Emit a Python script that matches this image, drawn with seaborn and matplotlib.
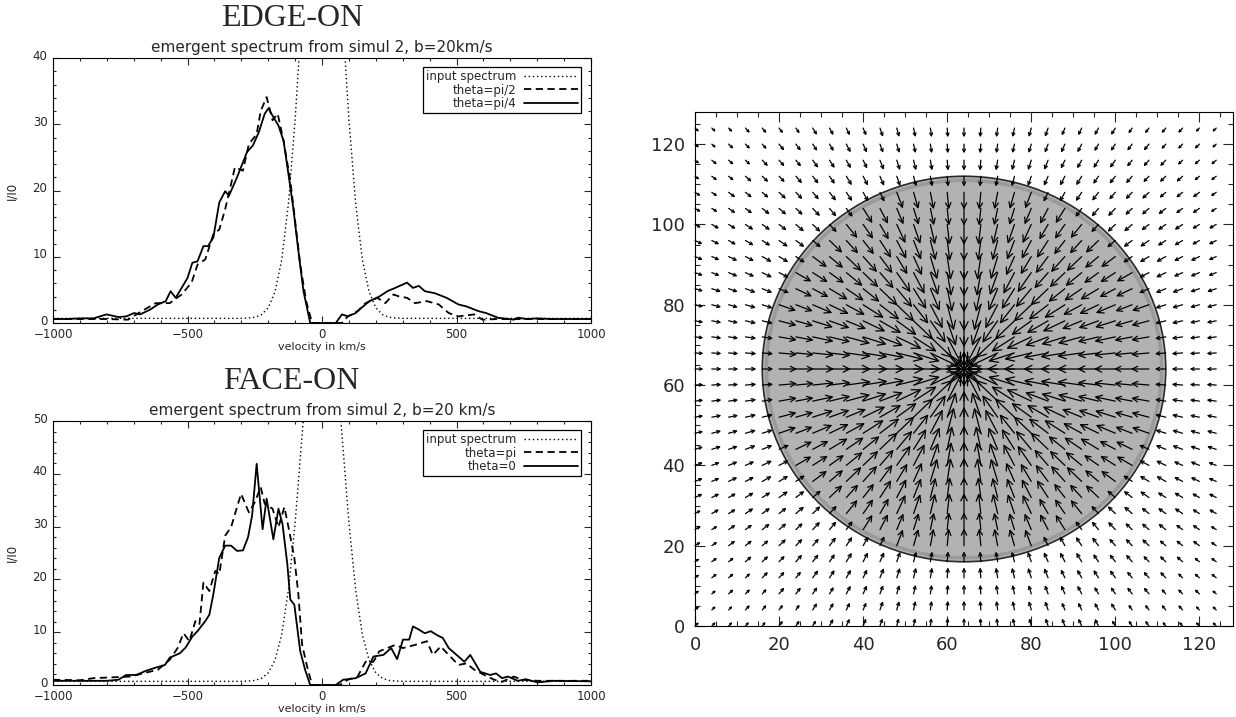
import numpy as np
import matplotlib
matplotlib.use("Agg")
import matplotlib.pyplot as plt
import matplotlib.transforms as mtransforms
import seaborn as sns
from matplotlib.patches import Circle
from matplotlib.ticker import MultipleLocator

# ---- spectra (velocity in km/s, I/I0) ----
# input spectrum, dotted, same in both panels
INPUT_V = [-1000, -300, -275, -250, -225, -200, -175, -150, -125, -100, -75, -50, -25, 0,
           25, 50, 75, 100, 125, 150, 175, 200, 225, 250, 275, 300, 1000]
INPUT_I = [0.7, 0.7, 0.75, 0.87, 1.26, 2.3, 4.7, 9.5, 18.0, 30.7, 46.8, 63.3, 75.9, 80.7,
           75.9, 63.3, 46.8, 30.7, 18.0, 9.5, 4.7, 2.3, 1.26, 0.87, 0.75, 0.7, 0.7]

# edge-on, theta=pi/4 (solid)
EDGE_V_PI4 = [-1000, -950, -900, -850, -801, -757, -728, -699, -676, -640, -610, -581, -563, -544,
              -522, -500, -482, -463, -441, -424, -404, -382, -360, -346, -316, -279, -257, -235,
              -213, -199, -184, -162, -143, -125, -107, -88, -69, -44, -22, 0, 25, 51, 74, 96,
              125, 147, 176, 213, 243, 272, 316, 338, 360, 382, 419, 463, 507, 537, 581, 610,
              654, 713, 728, 760, 800, 850, 900, 950, 1000]
EDGE_I_PI4 = [0.6, 0.6, 0.7, 0.7, 1.3, 0.9, 1.0, 1.5, 1.3, 2.0, 2.8, 3.3, 4.8, 3.8,
              5.3, 6.8, 9.1, 9.3, 11.6, 11.6, 12.9, 18.2, 19.9, 19.2, 22.0, 25.8, 26.8, 28.8,
              31.6, 32.4, 31.3, 29.8, 27.5, 22.5, 17.4, 10.9, 4.8, 0.0, 0.0, 0.0, 0.0, 0.0, 1.3, 1.0,
              1.5, 2.3, 3.3, 4.0, 4.8, 5.3, 6.1, 5.3, 5.6, 4.8, 4.5, 3.8, 2.8, 2.5, 1.8, 1.5,
              0.8, 0.5, 0.8, 0.6, 0.7, 0.6, 0.6, 0.6, 0.6]

# edge-on, theta=pi/2 (dashed)
EDGE_V_PI2 = [-1000, -900, -800, -721, -670, -618, -566, -522, -485, -463, -434, -404, -382, -360,
              -338, -324, -294, -272, -243, -228, -206, -184, -165, -143, -118, -103, -81, -59,
              -37, 0, 40, 74, 96, 132, 162, 206, 235, 265, 287, 316, 346, 390, 434, 471, 507,
              566, 596, 650, 750, 850, 1000]
EDGE_I_PI2 = [0.6, 0.6, 0.6, 0.5, 1.8, 3.0, 3.0, 4.3, 6.1, 8.8, 9.6, 13.4, 14.1, 17.2,
              21.0, 23.5, 23.0, 27.0, 28.5, 32.0, 34.1, 30.6, 31.6, 27.5, 21.5, 16.4, 8.8, 3.3,
              0.0, 0.0, 0.0, 0.0, 1.0, 1.8, 3.0, 3.8, 3.0, 4.3, 4.0, 3.8, 3.0, 3.3, 2.8, 1.5, 1.0,
              1.3, 0.5, 0.6, 0.6, 0.6, 0.6]

# face-on, theta=0 (solid)
FACE_V_0 = [-1000, -900, -800, -757, -728, -691, -654, -618, -584, -566, -529, -507, -482, -463,
            -434, -419, -404, -382, -360, -338, -316, -294, -275, -260, -243, -221, -206, -181,
            -162, -147, -129, -118, -103, -81, -63, -44, 0, 51, 78, 96, 125, 162, 191, 228,
            257, 279, 301, 324, 338, 360, 382, 404, 426, 449, 471, 507, 529, 551, 588, 625,
            647, 669, 691, 728, 757, 801, 860, 1000]
FACE_I_0 = [0.8, 0.8, 0.8, 1.0, 1.9, 1.9, 2.7, 3.3, 3.8, 5.2, 6.0, 7.1, 9.2, 10.2,
            12.1, 13.3, 17.2, 24.1, 26.4, 26.4, 25.4, 25.5, 28.0, 32.1, 41.9, 29.5, 35.3, 27.6,
            33.4, 30.5, 22.9, 16.2, 15.2, 6.4, 2.9, 0.0, 0.0, 0.0, 1.0, 1.1, 1.3, 2.2, 5.4, 5.7,
            7.0, 4.9, 8.6, 8.6, 11.1, 10.5, 9.8, 10.2, 9.5, 8.9, 7.0, 5.4, 4.4, 5.7, 2.5, 1.9,
            2.2, 1.3, 1.6, 0.8, 1.1, 0.5, 0.8, 0.7]

# face-on, theta=pi (dashed)
FACE_V_PI = [-1000, -900, -850, -713, -610, -566, -537, -515, -493, -471, -456, -441, -419, -397,
             -382, -360, -338, -316, -301, -272, -250, -228, -213, -184, -162, -140, -122, -103,
             -88, -74, -54, -37, 0, 66, 96, 132, 162, 191, 213, 243, 272, 301, 346, 390, 412,
             441, 471, 507, 537, 566, 603, 640, 669, 699, 713, 743, 800, 900, 1000]
FACE_I_PI = [1.0, 0.9, 1.3, 1.6, 2.9, 4.8, 7.0, 9.8, 8.3, 12.1, 11.4, 19.4, 17.8, 21.6,
             21.0, 28.3, 29.9, 33.7, 36.2, 32.7, 34.6, 37.5, 34.3, 33.4, 29.9, 33.7, 29.2, 24.1,
             17.2, 7.6, 3.2, 0.0, 0.0, 0.0, 1.0, 1.6, 4.4, 4.4, 6.4, 7.0, 7.6, 7.0, 7.6, 8.3, 5.7,
             7.3, 5.7, 3.8, 4.1, 2.9, 1.9, 1.0, 0.6, 1.3, 1.6, 1.0, 0.8, 0.8, 0.8]

# ---- velocity field (right panel) ----
GRID_STEP = 4
GRID_SIZE = 128
DISK_CENTER = (64, 64)
DISK_RADIUS = 48
# arrow length (grid units), per radial band
FLOW_R_EDGES = [6, 12, 20, 30, 40, 48, 56, 64, 72, 80]
FLOW_LENGTH = [8.5, 7.5, 6.6, 5.9, 5.1, 4.3, 2.6, 2.3, 2.0, 1.6, 1.3]

sns.set_theme(style="ticks", rc={"xtick.direction": "in", "ytick.direction": "in"})
plt.rcParams['font.family'] = ['DejaVu Sans']

fig = plt.figure(figsize=(12.36, 7.17), dpi=100)
fig.patch.set_facecolor('white')


def style_spectrum_axes(ax, ymax):
    ax.set_xlim(-1000, 1000)
    ax.set_ylim(0, ymax)
    ax.xaxis.set_major_locator(MultipleLocator(500))
    ax.xaxis.set_minor_locator(MultipleLocator(100))
    ax.yaxis.set_major_locator(MultipleLocator(10))
    ax.yaxis.set_minor_locator(MultipleLocator(2))
    ax.tick_params(which='both', top=True, right=True, direction='in', width=0.8, labelsize=8.5)
    ax.tick_params(axis='x', pad=3.5)
    ax.tick_params(axis='y', pad=4)
    ax.tick_params(which='major', length=5)
    ax.tick_params(which='minor', length=2.5)
    for sp in ax.spines.values():
        sp.set_linewidth(0.8)
        sp.set_color('black')
    ax.set_xticks([-1000, -500, 0, 500, 1000], ['\u22121000', '\u2212500', '0', '500', '1000'])
    # lift the y labels a little so "0" clears the "-1000" below it
    lift = mtransforms.ScaledTranslation(0, 2.5 / 72, fig.dpi_scale_trans)
    for lab in ax.get_yticklabels():
        lab.set_transform(lab.get_transform() + lift)
    ax.set_xlabel('velocity in km/s', fontsize=8, labelpad=1)
    ax.set_ylabel('I/I0', fontsize=8.5, labelpad=10)


def spectrum_panel(rect, title, subtitle, ymax, v_dash, i_dash, lab_dash, v_solid, i_solid, lab_solid):
    ax = fig.add_axes(rect)
    sns.lineplot(x=INPUT_V, y=INPUT_I, ax=ax, color='black', lw=1.0, linestyle=(0, (1, 2)),
                 label='input spectrum', sort=False, estimator=None)
    sns.lineplot(x=v_dash, y=i_dash, ax=ax, color='black', lw=1.3, linestyle=(0, (4, 2.5)),
                 label=lab_dash, sort=False, estimator=None)
    sns.lineplot(x=v_solid, y=i_solid, ax=ax, color='black', lw=1.3, linestyle='-',
                 label=lab_solid, sort=False, estimator=None)
    style_spectrum_axes(ax, ymax)
    ax.set_title(subtitle, fontsize=11, pad=4)
    leg = ax.legend(loc='upper right', bbox_to_anchor=(0.981, 0.966), fontsize=8.5,
                    markerfirst=False, handlelength=4.6, frameon=True, fancybox=False,
                    edgecolor='black', framealpha=1, borderpad=0.25, labelspacing=0.05,
                    handletextpad=0.6, borderaxespad=0)
    leg.get_frame().set_linewidth(0.9)
    pos = ax.get_position()
    fig.text(0.236, pos.y1 + 0.055, title, fontsize=23, family='Liberation Serif',
             ha='center', va='center')
    return ax


spectrum_panel([0.0429, 0.5495, 0.4353, 0.3696], 'EDGE-ON',
               'emergent spectrum from simul 2, b=20km/s', 40,
               EDGE_V_PI2, EDGE_I_PI2, 'theta=pi/2', EDGE_V_PI4, EDGE_I_PI4, 'theta=pi/4')
spectrum_panel([0.0429, 0.0446, 0.4353, 0.3682], 'FACE-ON',
               'emergent spectrum from simul 2, b=20 km/s', 50,
               FACE_V_PI, FACE_I_PI, 'theta=pi', FACE_V_0, FACE_I_0, 'theta=0')

# ---- right panel: infall velocity field over the disk ----
axr = fig.add_axes([0.5623, 0.1269, 0.4353, 0.7169])
axr.set_xlim(0, GRID_SIZE)
axr.set_ylim(0, GRID_SIZE)
axr.add_patch(Circle(DISK_CENTER, DISK_RADIUS, facecolor='#b2b2b2', edgecolor='#2a2a2a',
                     lw=1.2, zorder=1))
axr.add_patch(Circle(DISK_CENTER, DISK_RADIUS - 1.0, facecolor='none', edgecolor='#9a9a9a',
                     lw=2.5, zorder=1))

gx, gy = np.meshgrid(np.arange(0, GRID_SIZE, GRID_STEP), np.arange(0, GRID_SIZE, GRID_STEP))
for x, y in zip(gx.ravel(), gy.ravel()):
    ddx, ddy = DISK_CENTER[0] - x, DISK_CENTER[1] - y
    r = np.hypot(ddx, ddy)
    if r == 0:
        continue
    L = FLOW_LENGTH[np.searchsorted(FLOW_R_EDGES, r, side='right')]
    ux, uy = ddx / r * L, ddy / r * L
    hl = 0.9 * L
    hw = 0.45 * L
    axr.annotate('', xy=(x + ux, y + uy), xytext=(x, y), zorder=3,
                 arrowprops=dict(arrowstyle=f'->,head_length={hl:.2f},head_width={hw:.2f}',
                                 color='black', lw=0.9, shrinkA=0, shrinkB=0, mutation_scale=1))

axr.xaxis.set_major_locator(MultipleLocator(20))
axr.xaxis.set_minor_locator(MultipleLocator(5))
axr.yaxis.set_major_locator(MultipleLocator(20))
axr.yaxis.set_minor_locator(MultipleLocator(5))
axr.tick_params(which='both', top=True, right=True, direction='in', width=0.8, labelsize=13)
axr.tick_params(which='major', length=7, pad=7)
axr.tick_params(which='minor', length=3.5)
for sp in axr.spines.values():
    sp.set_linewidth(0.8)
    sp.set_color('black')

fig.savefig('out.png', dpi=100, facecolor='white')
